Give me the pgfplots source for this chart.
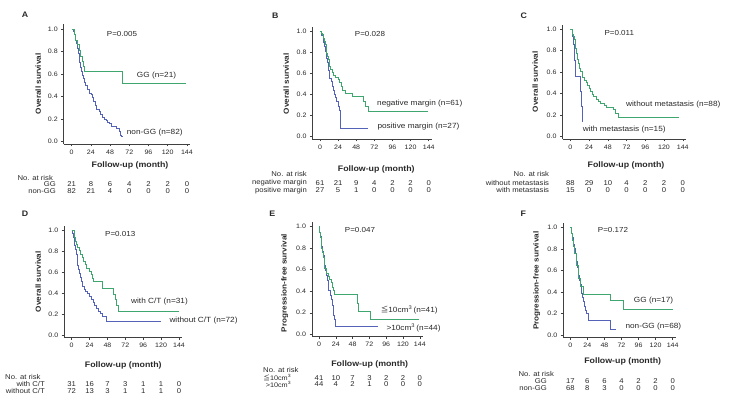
\documentclass[border=0pt]{standalone}
\usepackage{fontspec}
\setmainfont{Liberation Sans}[FakeStretch=1.1]
\newfontfamily\cjk{Noto Sans CJK SC}
\usepackage{pgfplots}
\pgfplotsset{compat=1.18}
\definecolor{kmgreen}{RGB}{62,166,110}
\definecolor{kmblue}{RGB}{84,98,184}
\definecolor{txt}{RGB}{40,40,40}
\newcommand{\fs}[1]{\fontsize{#1}{#1}\selectfont}
\pgfplotsset{km/.style={
  scale only axis, anchor=south west,
  axis lines*=left, xmin=-10, xmax=148, ymin=-0.02, ymax=1.04,
  xtick={0,24,48,72,96,120,144}, ytick={0,0.2,0.4,0.6,0.8,1},
  yticklabels={0.0,0.2,0.4,0.6,0.8,1.0},
  /pgf/number format/assume math mode=true,
  tick align=outside, major tick length=2.5pt,
  tick style={black!75, line width=0.5pt},
  axis line style={black!75, line width=0.5pt},
  ticklabel style={font=\fs{6.4}, text=txt},
  clip=false,
  every axis plot/.append style={const plot, line width=0.75pt, mark=none},
 },
 risk/.style={draw=none, nodes near coords, point meta=explicit symbolic,
  every node near coord/.append style={font=\fs{7}, text=txt, anchor=center, inner sep=0pt}},
 pb/.style={kmblue}, pg/.style={kmgreen}}
\tikzset{t/.style={inner sep=0pt, text=txt}}
\begin{document}
\begin{tikzpicture}[x=1pt,y=1pt]
\path[use as bounding box] (0,0) rectangle (729,403);
% ---------------- A
\begin{axis}[km, at={(63.7pt,259.05pt)}, width=126.4pt, height=119.5pt]
\addplot[pb] coordinates {(0,1)(2,0.98)(3,0.95)(4,0.93)(5,0.90)(6,0.87)(7,0.83)(8,0.78)(9,0.74)(10,0.70)(11,0.66)(12,0.62)(13,0.59)(14,0.56)(16,0.53)(17,0.50)(19,0.48)(20,0.46)(22,0.43)(24,0.42)(26,0.39)(27,0.36)(29,0.32)(31,0.29)(34,0.27)(36,0.24)(38,0.22)(41,0.20)(43,0.19)(45,0.17)(47,0.16)(49,0.14)(56,0.12)(59,0.09)(61,0.06)(62,0.05)(64,0.05)};
\addplot[pg] coordinates {(0,1)(3,0.95)(5,0.90)(7,0.86)(9,0.81)(11,0.76)(13,0.71)(15,0.67)(16,0.62)(63,0.52)(143,0.52)};
\addplot[risk] coordinates {(0,-0.378)[21](24,-0.378)[8](48,-0.378)[6](72,-0.378)[4](96,-0.378)[2](120,-0.378)[2](144,-0.378)[0]
(0,-0.435)[82](24,-0.435)[21](48,-0.435)[4](72,-0.435)[0](96,-0.435)[0](120,-0.435)[0](144,-0.435)[0]};
\end{axis}
% ---------------- B
\begin{axis}[km, at={(312.45pt,264.2pt)}, width=119.3pt, height=112pt]
\addplot[pb] coordinates {(0,1)(2,0.96)(4,0.93)(5,0.89)(6,0.85)(7,0.81)(8,0.78)(9,0.74)(10,0.70)(11,0.63)(12,0.55)(15,0.52)(16,0.48)(18,0.44)(19,0.40)(21,0.37)(22,0.33)(24,0.29)(26,0.25)(27,0.08)(64,0.08)};
\addplot[pg] coordinates {(0,1)(2,0.98)(3,0.97)(4,0.95)(5,0.93)(6,0.90)(7,0.87)(8,0.83)(9,0.79)(10,0.76)(11,0.73)(12,0.70)(13,0.67)(14,0.64)(16,0.61)(18,0.58)(20,0.56)(24,0.54)(26,0.51)(28,0.48)(30,0.44)(34,0.41)(43,0.38)(57,0.33)(60,0.29)(64,0.24)(143,0.24)};
\addplot[risk] coordinates {(0,-0.435)[61](24,-0.435)[21](48,-0.435)[9](72,-0.435)[4](96,-0.435)[2](120,-0.435)[2](144,-0.435)[0]
(0,-0.507)[27](24,-0.507)[5](48,-0.507)[1](72,-0.507)[0](96,-0.507)[0](120,-0.507)[0](144,-0.507)[0]};
\end{axis}
% ---------------- C
\begin{axis}[km, at={(562.5pt,264.15pt)}, width=123.4pt, height=114.2pt]
\addplot[pb] coordinates {(0,1)(2,0.93)(4,0.86)(5,0.79)(5.5,0.71)(6,0.56)(13,0.42)(14,0.28)(15,0.14)};
\addplot[pg] coordinates {(0,1)(2,0.98)(3,0.95)(4,0.93)(5,0.90)(6,0.86)(7,0.82)(8,0.77)(9,0.72)(10,0.68)(11,0.65)(12,0.63)(13,0.61)(15,0.58)(16,0.55)(18,0.52)(20,0.50)(22,0.48)(24,0.45)(26,0.42)(28,0.39)(30,0.37)(33,0.35)(36,0.33)(39,0.31)(43,0.29)(46,0.27)(55,0.25)(58,0.22)(62,0.18)(139,0.18)};
\addplot[risk] coordinates {(0,-0.427)[88](24,-0.427)[29](48,-0.427)[10](72,-0.427)[4](96,-0.427)[2](120,-0.427)[2](144,-0.427)[0]
(0,-0.495)[15](24,-0.495)[0](48,-0.495)[0](72,-0.495)[0](96,-0.495)[0](120,-0.495)[0](144,-0.495)[0]};
\end{axis}
% ---------------- D
\begin{axis}[km, at={(64.25pt,65.9pt)}, width=117.7pt, height=110.6pt]
\addplot[pb] coordinates {(0,1)(1,0.97)(2,0.94)(3,0.90)(4,0.86)(5,0.82)(6,0.77)(7,0.72)(8,0.67)(9,0.63)(10,0.59)(11,0.55)(13,0.51)(15,0.47)(17,0.44)(19,0.42)(21,0.40)(24,0.37)(27,0.34)(29,0.31)(31,0.28)(33,0.26)(36,0.23)(38,0.21)(41,0.18)(47,0.13)(120,0.13)};
\addplot[pg] coordinates {(0,1)(3,0.97)(4,0.94)(5,0.90)(6,0.87)(8,0.84)(10,0.81)(12,0.77)(14,0.74)(16,0.71)(18,0.68)(20,0.64)(24,0.61)(26,0.58)(28,0.54)(29,0.51)(41,0.45)(56,0.39)(58,0.34)(60,0.28)(62,0.23)(144,0.23)};
\addplot[risk] coordinates {(0,-0.473)[31](24,-0.473)[16](48,-0.473)[7](72,-0.473)[3](96,-0.473)[1](120,-0.473)[1](144,-0.473)[0]
(0,-0.537)[72](24,-0.537)[13](48,-0.537)[3](72,-0.537)[1](96,-0.537)[1](120,-0.537)[1](144,-0.537)[0]};
\end{axis}
% ---------------- E
\begin{axis}[km, at={(312pt,66.55pt)}, width=110.6pt, height=114.1pt]
\addplot[pb] coordinates {(0,1)(1,0.95)(2,0.91)(3,0.86)(4,0.82)(5,0.77)(6,0.73)(7,0.68)(8,0.64)(9,0.59)(10,0.55)(12,0.50)(13,0.45)(14,0.41)(16,0.36)(18,0.32)(19,0.27)(20,0.23)(21,0.18)(22,0.14)(24,0.07)(84,0.07)};
\addplot[pg] coordinates {(0,1)(1,0.95)(2,0.90)(3,0.85)(4,0.80)(5,0.76)(6,0.71)(7,0.66)(8,0.61)(10,0.57)(13,0.54)(15,0.51)(17,0.48)(19,0.44)(21,0.41)(22,0.37)(55,0.29)(56,0.21)(74,0.14)(143,0.14)};
\addplot[risk] coordinates {(0,-0.403)[41](24,-0.403)[10](48,-0.403)[7](72,-0.403)[3](96,-0.403)[2](120,-0.403)[2](144,-0.403)[0]
(0,-0.465)[44](24,-0.465)[4](48,-0.465)[2](72,-0.465)[1](96,-0.465)[0](120,-0.465)[0](144,-0.465)[0]};
\end{axis}
% ---------------- F
\begin{axis}[km, at={(563.2pt,65.85pt)}, width=112.3pt, height=114.2pt]
\addplot[pb] coordinates {(0,1)(1,0.97)(2,0.94)(3,0.91)(4,0.87)(5,0.84)(6,0.80)(7,0.76)(8,0.72)(9,0.68)(10,0.63)(11,0.59)(12,0.55)(13,0.51)(14,0.47)(15,0.43)(16,0.39)(17,0.35)(18,0.31)(20,0.27)(21,0.23)(23,0.20)(25,0.16)(26,0.14)(56,0.10)(57,0.05)(64,0.05)};
\addplot[pg] coordinates {(0,1)(2,0.94)(3,0.88)(5,0.82)(6,0.76)(8,0.71)(9,0.65)(11,0.59)(12,0.53)(14,0.45)(18,0.38)(56,0.32)(74,0.24)(144,0.24)};
\addplot[risk] coordinates {(0,-0.424)[17](24,-0.424)[6](48,-0.424)[6](72,-0.424)[4](96,-0.424)[2](120,-0.424)[2](144,-0.424)[0]
(0,-0.489)[68](24,-0.489)[8](48,-0.489)[3](72,-0.489)[0](96,-0.489)[0](120,-0.489)[0](144,-0.489)[0]};
\end{axis}
% ---------------- texts
\begin{scope}[every node/.style={t}]
% panel letters
\node[font=\fs{8}\bfseries] at (25,388) {A};
\node[font=\fs{8}\bfseries] at (275.3,387.3) {B};
\node[font=\fs{8}\bfseries] at (523.7,387.3) {C};
\node[font=\fs{8}\bfseries] at (25,189) {D};
\node[font=\fs{8}\bfseries] at (272.3,189) {E};
\node[font=\fs{8}\bfseries] at (523.3,189) {F};
% P values
\node[anchor=west,font=\fs{7.3}] at (106.7,368.7) {P=0.005};
\node[anchor=west,font=\fs{7.3}] at (354.7,368.7) {P=0.028};
\node[anchor=west,font=\fs{7.3}] at (604.3,369.7) {P=0.011};
\node[anchor=west,font=\fs{7.3}] at (105,169) {P=0.013};
\node[anchor=west,font=\fs{7.3}] at (344.7,173) {P=0.047};
\node[anchor=west,font=\fs{7.3}] at (597.7,173) {P=0.172};
% curve labels
\node[anchor=west,font=\fs{7.5}] at (136.7,327) {GG (n=21)};
\node[anchor=west,font=\fs{7.5}] at (126.7,270.3) {non-GG (n=82)};
\node[anchor=west,font=\fs{7.5}] at (377,299) {negative margin (n=61)};
\node[anchor=west,font=\fs{7.5}] at (377.3,276.3) {positive margin (n=27)};
\node[anchor=west,font=\fs{7.5}] at (626,298) {without metastasis (n=88)};
\node[anchor=west,font=\fs{7.5}] at (582.7,273) {with metastasis (n=15)};
\node[anchor=west,font=\fs{7.5}] at (131,101.3) {with C/T (n=31)};
\node[anchor=west,font=\fs{7.5}] at (169.3,82) {without C/T (n=72)};
\node[anchor=west,font=\fs{7.5}] at (380.7,93) {{\cjk ≦}10cm\textsuperscript{3}\,(n=41)};
\node[anchor=west,font=\fs{7.5}] at (386.3,75.3) {>10cm\textsuperscript{3}\,(n=44)};
\node[anchor=west,font=\fs{7.5}] at (633.7,102) {GG (n=17)};
\node[anchor=west,font=\fs{7.5}] at (625.3,76.3) {non-GG (n=68)};
% x labels
\node[font=\fs{8}\bfseries] at (130,238) {Follow-up (month)};
\node[font=\fs{8}\bfseries] at (376.3,234) {Follow-up (month)};
\node[font=\fs{8}\bfseries] at (626,237.3) {Follow-up (month)};
\node[font=\fs{8}\bfseries] at (123.3,38) {Follow-up (month)};
\node[font=\fs{8}\bfseries] at (369.7,38.7) {Follow-up (month)};
\node[font=\fs{8}\bfseries] at (622.7,41.3) {Follow-up (month)};
% y labels
\node[rotate=90,font=\fs{7.4}\bfseries] at (38.3,319) {Overall survival};
\node[rotate=90,font=\fs{7.4}\bfseries] at (286.3,319) {Overall survival};
\node[rotate=90,font=\fs{7.4}\bfseries] at (535.3,321.3) {Overall survival};
\node[rotate=90,font=\fs{7.4}\bfseries] at (38.3,121.3) {Overall survival};
\node[rotate=90,font=\fs{7.4}\bfseries] at (284.7,120) {Progression-free survival};
\node[rotate=90,font=\fs{7.4}\bfseries] at (536.7,122.3) {Progression-free survival};
% risk table labels
\node[anchor=west,font=\fs{7}] at (17.3,225.3) {No. at risk};
\node[anchor=east,font=\fs{7}] at (56,218.7) {GG};
\node[anchor=east,font=\fs{7}] at (56,212.3) {non-GG};
\node[anchor=east,font=\fs{7}] at (307,229) {No. at risk};
\node[anchor=east,font=\fs{7}] at (307,220.3) {negative margin};
\node[anchor=east,font=\fs{7}] at (307,212.7) {positive margin};
\node[anchor=east,font=\fs{7}] at (549.3,229) {No. at risk};
\node[anchor=east,font=\fs{7}] at (549.3,220.3) {without metastasis};
\node[anchor=east,font=\fs{7}] at (549.3,213) {with metastasis};
\node[anchor=west,font=\fs{7}] at (5,26.3) {No. at risk};
\node[anchor=east,font=\fs{7}] at (45,18.7) {with C/T};
\node[anchor=east,font=\fs{7}] at (45,12) {without C/T};
\node[anchor=west,font=\fs{7}] at (263,33) {No. at risk};
\node[anchor=east,font=\fs{6.6}] at (291.3,25.6) {{\cjk ≦}10cm\textsuperscript{3}};
\node[anchor=east,font=\fs{6.6}] at (291.3,18.7) {>10cm\textsuperscript{3}};
\node[anchor=west,font=\fs{7}] at (518.3,29) {No. at risk};
\node[anchor=east,font=\fs{7}] at (547,22.3) {GG};
\node[anchor=east,font=\fs{7}] at (547,15.3) {non-GG};
\end{scope}
\end{tikzpicture}
\end{document}
